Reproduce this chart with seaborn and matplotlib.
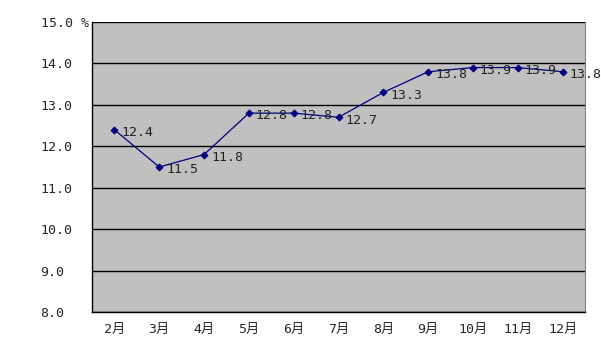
import matplotlib
matplotlib.use("Agg")
import matplotlib.pyplot as plt
import seaborn as sns
import pandas as pd
import numpy as np

months = ["2月", "3月", "4月", "5月", "6月", "7月", "8月", "9月", "10月", "11月", "12月"]
values = [12.4, 11.5, 11.8, 12.8, 12.8, 12.7, 13.3, 13.8, 13.9, 13.9, 13.8]
yticks = [8.0, 9.0, 10.0, 11.0, 12.0, 13.0, 14.0, 15.0]

sns.set_style("white")
plt.rcParams['font.family'] = ['DejaVu Sans Mono', 'Noto Sans CJK SC']

df = pd.DataFrame({"month": months, "value": values})

fig = plt.figure(figsize=(6.01, 3.54), dpi=100)
ax = fig.add_axes([92/601, 42/354, 493/601, 290/354])
ax.set_facecolor("#c0c0c0")

sns.lineplot(data=df, x="month", y="value", ax=ax, color="#000080",
             marker="D", markersize=3.5, markeredgecolor="#000080",
             linewidth=0.9, sort=False, zorder=3)

for i, v in enumerate(values):
    ax.annotate(f"{v:.1f}", (i, v), xytext=(5, -2), textcoords="offset points",
                ha="left", va="center", fontsize=9.5, color="#222222", zorder=4)

ax.set_xlim(-0.5, len(months) - 0.5)
ax.set_ylim(8.0, 15.0)
ax.set_yticks(yticks)
ax.set_yticklabels([f"{t:.1f}" if t != 15.0 else f"{t:.1f} %" for t in yticks], fontsize=9.5)
ax.yaxis.grid(True, color="black", linewidth=1.0)
ax.set_axisbelow(True)
for lbl in ax.get_yticklabels():
    lbl.set_horizontalalignment("left")
ax.tick_params(axis="y", length=0, pad=37)

ax.set_xticks(range(len(months)))
ax.set_xticklabels(months, fontsize=9.5)
ax.set_xticks(np.arange(0.5, len(months) - 0.5, 1.0), minor=True)
ax.tick_params(axis="x", which="major", length=0, pad=8)
ax.tick_params(axis="x", which="minor", direction="in", length=4, color="black")
ax.set_xlabel("")
ax.set_ylabel("")

for s in ["left", "bottom"]:
    ax.spines[s].set_color("black")
    ax.spines[s].set_linewidth(1.0)
ax.spines["right"].set_color("#808080")
ax.spines["top"].set_visible(False)

fig.savefig("out.png", dpi=100)
